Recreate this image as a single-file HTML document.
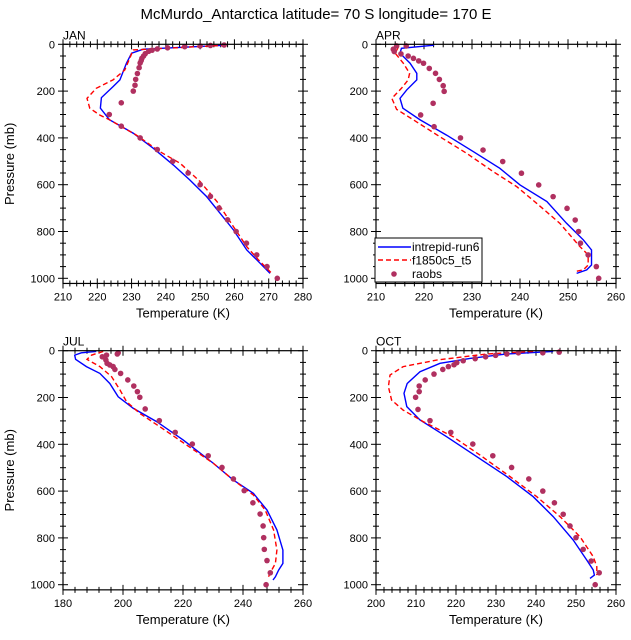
<!DOCTYPE html>
<html><head><meta charset="utf-8"><style>
body{margin:0;background:#fff}
svg{display:block;font-family:"Liberation Sans",sans-serif}
</style></head><body>
<svg id="c" width="631" height="640" viewBox="0 0 631 640">
<text x="316" y="19" font-size="15" text-anchor="middle">McMurdo_Antarctica  latitude= 70 S longitude= 170 E</text>
</svg>
<script>
const panelNames=["JAN","APR","JUL","OCT"];
const xRanges=[[210,280],[210,260],[180,260],[200,260]];
const xTickLabels=[[210,220,230,240,250,260,270,280],[210,220,230,240,250,260],[180,200,220,240,260],[200,210,220,230,240,250,260]];
const yTickLabels=[0,200,400,600,800,1000];
const janRun=[[257.5,4],[233.4,21],[230,38],[228.5,81],[226.6,152],[224.6,181],[221.2,228],[220.9,273],[223.6,323],[230.5,380],[236.3,444],[242.2,516],[247,580],[251.9,651],[255.8,722],[259.7,793],[263.6,879],[266.5,921],[270.4,979]];
const janCtl=[[257.5,4],[230.5,24],[228,110],[224.6,152],[219.7,188],[217,231],[217.8,273],[220.7,302],[223.6,323],[231.4,388],[238.3,459],[244.2,509],[250,587],[254.9,672],[259.7,779],[263.6,865],[267,921],[270.9,979]];
const janObs=[[257,3],[253,5],[250,7],[245.5,10],[240.5,15],[237.5,20],[236,25],[235,30],[234,40],[233.5,50],[233,60],[232.8,70],[232.5,80],[232.2,100],[231.7,125],[231.2,150],[231,175],[230.5,200],[227,250],[223.5,300],[227,350],[232.5,400],[237.5,450],[242,500],[246.5,550],[250,600],[253,650],[255.5,700],[258,750],[260.5,800],[263.5,850],[266.5,900],[269.5,950],[272.5,1000]];
const aprRun=[[222.1,4],[215.3,17],[215,38],[217.1,81],[218.5,124],[218.5,152],[216.4,195],[215,231],[215.6,273],[219.2,323],[224.7,388],[230.3,459],[235.8,530],[240,601],[245.6,672],[249.7,765],[253.2,836],[254.9,879],[254.9,943],[253.9,964],[251.8,979]];
const aprCtl=[[214.7,10],[214,38],[215.7,81],[217,124],[216.7,152],[215.3,188],[213.3,231],[214.3,278],[217.8,323],[223.3,395],[228.9,466],[234.4,544],[239.3,608],[243.5,680],[248.3,765],[252.5,865],[254.2,900],[254.2,943],[253.2,964],[251.5,971]];
const aprObs=[[214.3,7],[216.3,7],[213.6,21],[213.8,31],[215.2,41],[216.7,50],[217.8,60],[218.9,71],[219.9,81],[221.1,103],[222.4,124],[223.2,150],[224,177],[224.2,201],[221.9,252],[219.3,302],[222.1,352],[227.6,400],[232.3,452],[236.4,501],[240.3,551],[243.9,601],[246.9,651],[249.8,701],[251.5,751],[252.2,800],[252.6,850],[254.2,900],[255.9,950],[256.4,1000]];
const julRun=[[191.1,3],[186.1,9],[183.9,19],[184.2,37],[187.8,68],[192.3,97],[195.6,140],[198.4,197],[203.4,246],[211.2,303],[220.1,382],[230.1,481],[236.8,553],[243.5,610],[248,681],[251.3,766],[253.3,852],[253.3,909],[251.9,937],[250.8,966],[250,980]];
const julCtl=[[193.4,3],[189.5,19],[188,37],[192.3,68],[196.2,111],[199,168],[201.2,218],[205.6,268],[212.3,325],[221.2,403],[230.1,481],[236.8,553],[243.5,617],[247.4,681],[250.2,766],[251.3,852],[250.8,909],[249.6,937],[248.5,966]];
const julObs=[[198.4,9],[198.1,14],[194.5,19],[193.1,26],[194.3,40],[194.7,54],[195.6,61],[196.7,68],[197.3,80],[199.2,97],[201.6,125],[203.6,151],[204.8,175],[205.6,199],[207.4,249],[212.1,299],[217.4,349],[223.1,399],[228.4,449],[233,499],[236.8,548],[240.4,598],[243.3,650],[245.7,698],[246.7,749],[246.9,799],[247.1,849],[248,897],[249.1,949],[247.7,1000]];
const octRun=[[244.3,3],[232.7,14],[223.5,33],[216,54],[211,90],[207.8,140],[207,182],[207.7,239],[211,296],[217.7,368],[225.2,453],[232.7,538],[239.3,624],[244.3,709],[249.3,809],[252.7,895],[254.3,937],[254.6,959],[253.5,973]];
const octCtl=[[239.3,3],[227.7,14],[215.2,40],[206.8,68],[203.5,104],[203.1,154],[203.9,211],[206.8,254],[211.8,303],[219.3,368],[226,446],[233.5,538],[240.2,624],[246,709],[251,795],[254.3,880],[255.2,923],[255.2,959]];
const octObs=[[245.8,6],[241.7,9],[235.6,9],[232.7,14],[229.9,20],[227.4,26],[224.8,34],[221.8,43],[220.2,51],[219.5,60],[218.1,68],[216.7,80],[214.5,100],[212.3,125],[210.8,151],[210.8,175],[209.9,199],[210.5,251],[213.5,299],[218.7,349],[224.2,399],[229.2,449],[233.9,499],[238.2,548],[241.7,600],[244.6,650],[246.8,699],[248.5,749],[250,799],[251.8,849],[253.8,899],[255.8,949],[254.8,1000]];
const runSeries=[janRun,aprRun,julRun,octRun];
const ctlSeries=[janCtl,aprCtl,julCtl,octCtl];
const obsSeries=[janObs,aprObs,julObs,octObs];
const legendLabels=["intrepid-run6","f1850c5_t5","raobs"];

const NS="http://www.w3.org/2000/svg";
const svg=document.getElementById('c');
function mk(tag,attrs,parent){const e=document.createElementNS(NS,tag);for(const k in attrs)e.setAttribute(k,attrs[k]);(parent||svg).appendChild(e);return e;}
const boxes=[[63,303,44.3],[376,616,44.3],[63,303,350.7],[376,616,350.7]];
const PMAX=1022;
boxes.forEach((b,i)=>{
  const [L,R,T]=b; const pxPerMb=0.234; const B=T+PMAX*pxPerMb;
  const [x0,x1]=xRanges[i];
  const xs=v=>L+(v-x0)/(x1-x0)*(R-L);
  const ys=p=>T+p*pxPerMb;
  const g=mk('g',{});
  
  
  const lbl=mk('text',{x:L,y:T-5,'font-size':12},g);lbl.textContent=panelNames[i];
  
  // ticks
  const step=(x1-x0)/(xTickLabels[i].length-1);
  for(let v=x0;v<=x1+1e-6;v+=step/5){
    const x=xs(v);const maj=Math.abs(((v-x0)/step)-Math.round((v-x0)/step))<1e-6;
    const len=maj?5:3;
    mk('line',{x1:x,x2:x,y1:B-len,y2:B+(maj?5:3),stroke:'#000','stroke-width':1},g);
    mk('line',{x1:x,x2:x,y1:T-(maj?5:3),y2:T+len,stroke:'#000','stroke-width':1},g);
  }
  xTickLabels[i].forEach(v=>{const t=mk('text',{x:xs(v),y:B+17,'font-size':11,'text-anchor':'middle'},g);t.textContent=v;
    });
  for(let p=0;p<=1000;p+=50){
    const y=ys(p);const maj=p%200===0;const len=maj?5:3;
    mk('line',{x1:L-(maj?5:3),x2:L+len,y1:y,y2:y,stroke:'#000','stroke-width':1},g);
    mk('line',{x1:R-len,x2:R+(maj?5:3),y1:y,y2:y,stroke:'#000','stroke-width':1},g);
  }
  yTickLabels.forEach(p=>{const t=mk('text',{x:L-8,y:ys(p)+4,'font-size':11,'text-anchor':'end'},g);t.textContent=p;
    });
  const xt=mk('text',{x:(L+R)/2,y:B+34,'font-size':13,'text-anchor':'middle'},g);xt.textContent='Temperature (K)';
  
  if(i%2===0){const yt=mk('text',{x:0,y:0,'font-size':13,'text-anchor':'middle',transform:`translate(14,${(T+B)/2}) rotate(-90)`},g);yt.textContent='Pressure (mb)';
    }
  // series
  const run=mk('polyline',{points:runSeries[i].map(d=>xs(d[0])+','+ys(d[1])).join(' '),fill:'none',stroke:'#0000ff','stroke-width':1.4},g);
  
  const ctl=mk('polyline',{points:ctlSeries[i].map(d=>xs(d[0])+','+ys(d[1])).join(' '),fill:'none',stroke:'#ff0000','stroke-width':1.4,'stroke-dasharray':'5,3'},g);
  
  obsSeries[i].forEach(d=>{const c=mk('circle',{cx:xs(d[0]),cy:ys(d[1]),r:2.8,fill:'#b03060'},g);
    });
  const box=mk('rect',{x:L,y:T,width:R-L,height:B-T,fill:'none',stroke:'#000','stroke-width':1.2},g);
  
  if(i===1){
    const lg=mk('g',{},g);
    mk('rect',{x:375,y:238,width:107,height:44,fill:'#fff',stroke:'#000','stroke-width':1},lg);
    mk('line',{x1:378,x2:411,y1:247,y2:247,stroke:'#0000ff','stroke-width':1.4},lg);
    mk('line',{x1:378,x2:411,y1:260,y2:260,stroke:'#ff0000','stroke-width':1.4,'stroke-dasharray':'5,3'},lg);
    mk('circle',{cx:394,cy:274,r:2.8,fill:'#b03060'},lg);
    legendLabels.forEach((s,k)=>{const t=mk('text',{x:412,y:251+k*13.5,'font-size':12},lg);t.textContent=s;
      });
  }
});
</script>
</body></html>
